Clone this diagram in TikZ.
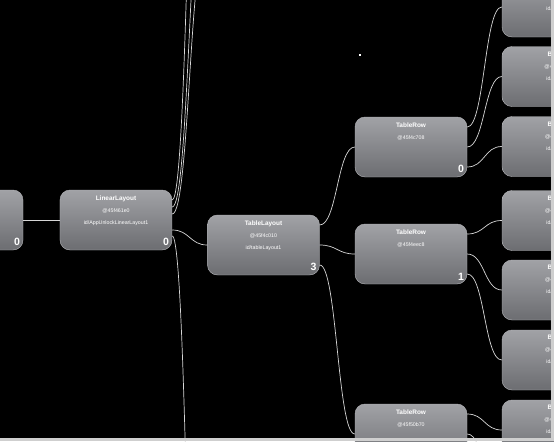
\documentclass[tikz,border=0pt]{standalone}
\usepackage{fontspec}
\setmainfont{Liberation Sans}
\usepackage{tikz}
\usetikzlibrary{calc}
\definecolor{viewtop}{HTML}{A1A2A6}
\definecolor{viewbot}{HTML}{6C6D71}
\definecolor{viewline}{HTML}{B4B5B9}
\definecolor{linkgray}{HTML}{D6D6D6}
\definecolor{framegray}{HTML}{CFCFCF}
\newcommand{\vtitle}{\bfseries\fontsize{5.5}{10.2}\selectfont}

\begin{document}
\begin{tikzpicture}[
  x=0.03cm, y=0.03cm,
  view/.style={draw=viewline,line width=0.4pt,rounded corners=0.3cm,top color=viewtop,bottom color=viewbot,minimum width=3.36cm,minimum height=1.8cm,inner sep=0pt},
  vtext/.style={anchor=north,align=center,text=white,inner sep=0pt,font=\fontsize{4.5}{10.2}\selectfont},
  idx/.style={anchor=south east,text=white,inner sep=0pt,font=\bfseries\fontsize{9}{9}\selectfont},
  link/.style={draw=linkgray,line width=0.6pt,out=0,in=180,distance=0.52cm}
]
\useasboundingbox (0,0) rectangle (554,-441);
\clip (0,0) rectangle (554,-441);
\fill[black] (0,0) rectangle (554,-441);

% views
\node[view] (root) at (-33,-220) {};
\node[view] (ll) at (116,-220) {};
\node[view] (tl) at (263.5,-245) {};
\node[view] (row1) at (411,-147) {};
\node[view] (row2) at (411,-254) {};
\node[view] (row3) at (411,-434) {};
\node[view] (btnA) at (558,-7) {};
\node[view] (btnB) at (558,-76.5) {};
\node[view] (btnC) at (558,-146.5) {};
\node[view] (btnD) at (558,-220.5) {};
\node[view] (btnE) at (558,-290) {};
\node[view] (btnF) at (558,-360) {};
\node[view] (btnG) at (558,-430) {};

% children out of sight
\coordinate (up1) at (207,440);
\coordinate (up2) at (207,150);
\coordinate (up3) at (207,60);
\coordinate (down1) at (207,-1021);
\coordinate (rowc1) at (502,-500);
\coordinate (rowc2) at (502,-570);

% links
\draw[link] (root.east) to (ll.west);
\draw[link] ($(ll.east)+(0,20)$) to (up1);
\draw[link] ($(ll.east)+(0,13)$) to (up2);
\draw[link] ($(ll.east)+(0,6)$) to (up3);
\draw[link] ($(ll.east)+(0,-10)$) to (tl.west);
\draw[link] ($(ll.east)+(0,-16)$) to (down1);
\draw[link] ($(tl.east)+(0,20)$) to (row1.west);
\draw[link] (tl.east) to (row2.west);
\draw[link] ($(tl.east)+(0,-20)$) to (row3.west);
\draw[link] ($(row1.east)+(0,20)$) to (btnA.west);
\draw[link] (row1.east) to (btnB.west);
\draw[link] ($(row1.east)+(0,-20)$) to (btnC.west);
\draw[link] ($(row2.east)+(0,20)$) to (btnD.west);
\draw[link] (row2.east) to (btnE.west);
\draw[link] ($(row2.east)+(0,-20)$) to (btnF.west);
\draw[link] ($(row3.east)+(0,20)$) to (btnG.west);
\draw[link] (row3.east) to (rowc1);
\draw[link] ($(row3.east)+(0,-20)$) to (rowc2);

% texts
\node[vtext] (ll-txt) at ($(ll.north)+(0,-5.5)$) {{\vtitle LinearLayout}\\@45f461e0\\id/AppUnlockLinearLayout1};
\node[vtext] (tl-txt) at ($(tl.north)+(0,-5.5)$) {{\vtitle TableLayout}\\@45f4c010\\id/tableLayout1};
\node[vtext] (row1-txt) at ($(row1.north)+(0,-5.5)$) {{\vtitle TableRow}\\@45f4c708};
\node[vtext] (row2-txt) at ($(row2.north)+(0,-5.5)$) {{\vtitle TableRow}\\@45f4eec8};
\node[vtext] (row3-txt) at ($(row3.north)+(0,-5.5)$) {{\vtitle TableRow}\\@45f50b70};
\node[vtext] (btnA-txt) at ($(btnA.north)+(0,-5.5)$) {{\vtitle Button}\\@45f4c9a0\\id/button1};
\node[vtext] (btnB-txt) at ($(btnB.north)+(0,-5.5)$) {{\vtitle Button}\\@45f4cd48\\id/button2};
\node[vtext] (btnC-txt) at ($(btnC.north)+(0,-5.5)$) {{\vtitle Button}\\@45f4e0f8\\id/button3};
\node[vtext] (btnD-txt) at ($(btnD.north)+(0,-5.5)$) {{\vtitle Button}\\@45f4f160\\id/button4};
\node[vtext] (btnE-txt) at ($(btnE.north)+(0,-5.5)$) {{\vtitle Button}\\@45f4f508\\id/button5};
\node[vtext] (btnF-txt) at ($(btnF.north)+(0,-5.5)$) {{\vtitle Button}\\@45f4f8b0\\id/button6};
\node[vtext] (btnG-txt) at ($(btnG.north)+(0,-5.5)$) {{\vtitle Button}\\@45f50e18\\id/button7};

% child indices
\node[idx] (root-idx) at ($(root.south east)+(-3,4)$) {0};
\node[idx] (ll-idx) at ($(ll.south east)+(-3,4)$) {0};
\node[idx] (tl-idx) at ($(tl.south east)+(-3,4)$) {3};
\node[idx] (row1-idx) at ($(row1.south east)+(-3,4)$) {0};
\node[idx] (row2-idx) at ($(row2.south east)+(-3,4)$) {1};

\fill[white] (359,-54) rectangle (361,-56);
\fill[framegray] (551,0) rectangle (554,-441);
\fill[framegray] (0,-438) rectangle (554,-441);
\end{tikzpicture}
\end{document}
